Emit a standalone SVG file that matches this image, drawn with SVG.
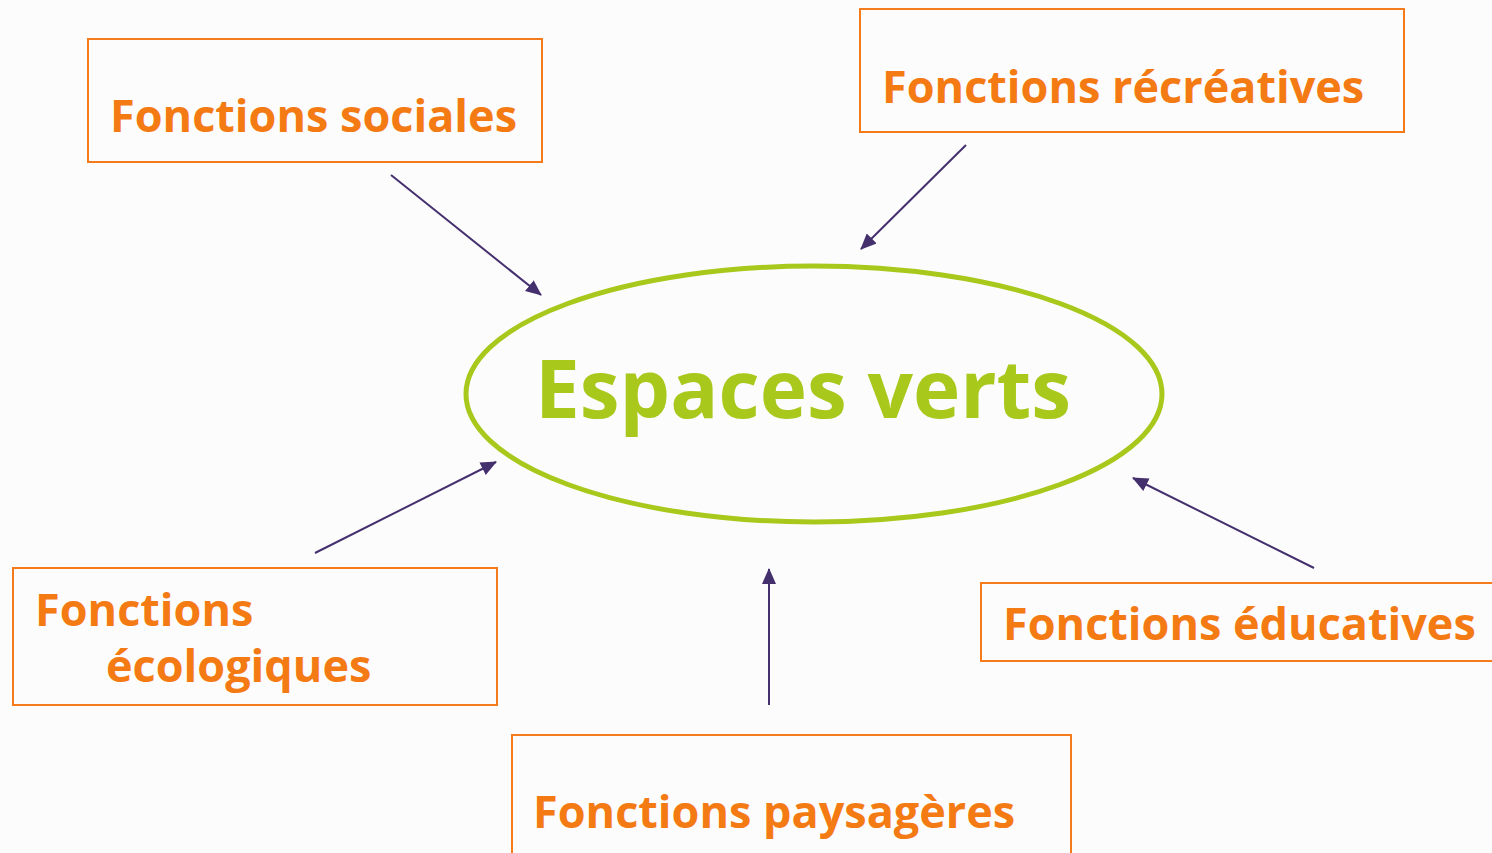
<svg xmlns="http://www.w3.org/2000/svg" width="1492" height="853" viewBox="0 0 1492 853">
<style>
.box{fill:none;stroke:#f47a1a;stroke-width:2}
.lbl{font-family:"Open Sans","Liberation Sans",sans-serif;font-weight:bold;font-size:45px;fill:#f47a14}
.main{font-family:"Open Sans","Liberation Sans",sans-serif;font-weight:bold;font-size:80px;fill:#a8c81c}
.conn{stroke:#45306e;stroke-width:2;fill:none;marker-end:url(#ah)}
</style>
<defs>
<marker id="ah" viewBox="0 0 16 14" refX="15" refY="7" markerWidth="16" markerHeight="14" markerUnits="userSpaceOnUse" orient="auto">
<path d="M0,0 L16,7 L0,14 z" fill="#45306e"/>
</marker>
</defs>
<rect width="1492" height="853" fill="#fcfcfd"/>
<g id="center">
<ellipse cx="814" cy="394" rx="348" ry="128" fill="none" stroke="#a8c81c" stroke-width="5"/>
<text class="main" x="535" y="418">Espaces verts</text>
</g>
<g id="sociales">
<rect class="box" x="88" y="39" width="454" height="123"/>
<text class="lbl" x="110" y="132">Fonctions sociales</text>
</g>
<g id="recreatives">
<rect class="box" x="860" y="9" width="544" height="123"/>
<text class="lbl" x="882" y="103">Fonctions récréatives</text>
</g>
<g id="ecologiques">
<rect class="box" x="13" y="568" width="484" height="137"/>
<text class="lbl" x="35" y="626">Fonctions</text>
<text class="lbl" x="106" y="682">écologiques</text>
</g>
<g id="paysageres">
<rect class="box" x="512" y="735" width="559" height="130"/>
<text class="lbl" x="533" y="828">Fonctions paysagères</text>
</g>
<g id="educatives">
<rect class="box" x="981" y="583" width="520" height="78"/>
<text class="lbl" x="1003" y="640">Fonctions éducatives</text>
</g>
<g id="connectors">
<line class="conn" x1="391" y1="175" x2="541" y2="295"/>
<line class="conn" x1="966" y1="145" x2="861" y2="249"/>
<line class="conn" x1="315" y1="553" x2="496" y2="462"/>
<line class="conn" x1="769" y1="705" x2="769" y2="569"/>
<line class="conn" x1="1314" y1="568" x2="1133" y2="478"/>
</g>
</svg>
